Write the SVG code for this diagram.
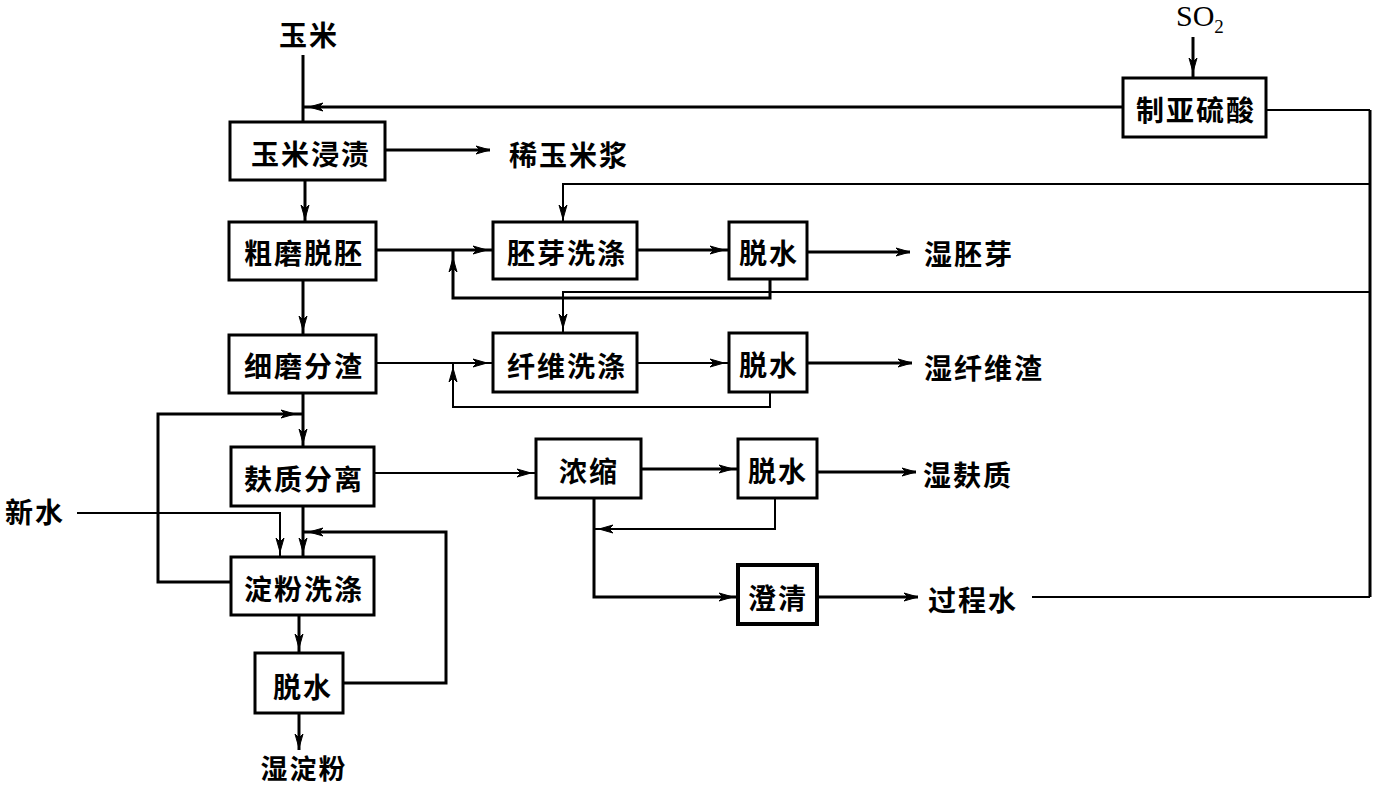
<svg xmlns="http://www.w3.org/2000/svg" xmlns:xlink="http://www.w3.org/1999/xlink" width="1376" height="787" viewBox="0 0 1376 787">
<style>
.box{fill:#fff;stroke:#000;stroke-width:3}
.bx4{fill:#fff;stroke:#000;stroke-width:4}
.t{font-family:"Noto Sans CJK SC","Noto Sans CJK TC",sans-serif;font-weight:bold;font-size:28px;letter-spacing:2px;text-anchor:middle;dominant-baseline:central;fill:#000}
.thk{fill:none;stroke:#000;stroke-width:3}
.thn{fill:none;stroke:#000;stroke-width:2}
</style>
<defs>
<path id="ah" d="M0,0 L-14,-4 L-10,0 L-14,4 Z" fill="#000" stroke="#000" stroke-width="1"/>
</defs>
<rect width="1376" height="787" fill="#fff"/>
<g id="connectors">
<path class="thk" d="M303,55 V122"/>
<path class="thk" d="M303,107 H1123"/>
<path class="thk" d="M1193,37 V78"/>
<path class="thn" d="M1266,110 H1370"/>
<path class="thk" d="M1370,110 V597"/>
<path class="thn" d="M1370,184 H563 V222"/>
<path class="thn" d="M1370,292 H563 V333"/>
<path class="thn" d="M1370,597 H1032"/>
<path class="thk" d="M385,150 H490"/>
<path class="thk" d="M305,180 V222"/>
<path class="thk" d="M376,250 H493"/>
<path class="thk" d="M637,250 H729"/>
<path class="thk" d="M807,252 H910"/>
<path class="thk" d="M770,280 V298 H453 V250"/>
<path class="thk" d="M303,280 V335"/>
<path class="thn" d="M376,363 H493"/>
<path class="thn" d="M637,363 H729"/>
<path class="thk" d="M807,363 H912"/>
<path class="thn" d="M770,392 V407 H453 V363"/>
<path class="thk" d="M303,392 V447"/>
<path class="thk" d="M231,582 H158 V414 H303"/>
<path class="thn" d="M374,473 H536"/>
<path class="thk" d="M641,469 H738"/>
<path class="thk" d="M817,472 H916"/>
<path class="thn" d="M775,498 V529 H594"/>
<path class="thk" d="M594,498 V597 H738"/>
<path class="thk" d="M817,597 H918"/>
<path class="thn" d="M77,513 H280 V557"/>
<path class="thk" d="M303,506 V557"/>
<path class="thk" d="M343,683 H446 V532 H303"/>
<path class="thk" d="M299,615 V653"/>
<path class="thk" d="M299,713 V750"/>
<use xlink:href="#ah" transform="translate(309,107) rotate(180)"/>
<use xlink:href="#ah" transform="translate(1193,72) rotate(90)"/>
<use xlink:href="#ah" transform="translate(490,150)"/>
<use xlink:href="#ah" transform="translate(305,219) rotate(90)"/>
<use xlink:href="#ah" transform="translate(563,219) rotate(90)"/>
<use xlink:href="#ah" transform="translate(487,250)"/>
<use xlink:href="#ah" transform="translate(453,258) rotate(-90)"/>
<use xlink:href="#ah" transform="translate(724,250)"/>
<use xlink:href="#ah" transform="translate(910,252)"/>
<use xlink:href="#ah" transform="translate(563,328) rotate(90)"/>
<use xlink:href="#ah" transform="translate(303,330) rotate(90)"/>
<use xlink:href="#ah" transform="translate(487,363)"/>
<use xlink:href="#ah" transform="translate(453,368) rotate(-90)"/>
<use xlink:href="#ah" transform="translate(724,363)"/>
<use xlink:href="#ah" transform="translate(912,363)"/>
<use xlink:href="#ah" transform="translate(303,443) rotate(90)"/>
<use xlink:href="#ah" transform="translate(295,414)"/>
<use xlink:href="#ah" transform="translate(531,473)"/>
<use xlink:href="#ah" transform="translate(733,469)"/>
<use xlink:href="#ah" transform="translate(916,472)"/>
<use xlink:href="#ah" transform="translate(599,529) rotate(180)"/>
<use xlink:href="#ah" transform="translate(733,597)"/>
<use xlink:href="#ah" transform="translate(918,597)"/>
<use xlink:href="#ah" transform="translate(280,552) rotate(90)"/>
<use xlink:href="#ah" transform="translate(303,552) rotate(90)"/>
<use xlink:href="#ah" transform="translate(309,532) rotate(180)"/>
<use xlink:href="#ah" transform="translate(299,648) rotate(90)"/>
<use xlink:href="#ah" transform="translate(299,748) rotate(90)"/>
</g>
<g id="n-yumi"><text class="t" x="309" y="34">玉米</text></g>
<g id="n-so2"><text x="1176" y="26" font-family="Liberation Serif,serif" font-size="30">SO<tspan font-size="19" dy="7">2</tspan></text></g>
<g id="n-zhiyalsuan"><rect class="box" x="1123" y="78" width="143" height="59"/><text class="t" x="1196" y="109">制亚硫酸</text></g>
<g id="n-jinzi"><rect class="box" x="230" y="122" width="155" height="58"/><text class="t" x="311" y="153">玉米浸渍</text></g>
<g id="n-xiyumijiang"><text class="t" x="569" y="154">稀玉米浆</text></g>
<g id="n-cumo"><rect class="box" x="229" y="222" width="147" height="58"/><text class="t" x="304" y="252">粗磨脱胚</text></g>
<g id="n-peiya"><rect class="box" x="493" y="222" width="144" height="57"/><text class="t" x="567" y="252">胚芽洗涤</text></g>
<g id="n-tuoshui1"><rect class="box" x="729" y="222" width="78" height="57"/><text class="t" x="769" y="252">脱水</text></g>
<g id="n-shipeiya"><text class="t" x="969" y="253">湿胚芽</text></g>
<g id="n-ximo"><rect class="box" x="229" y="335" width="147" height="58"/><text class="t" x="304" y="365">细磨分渣</text></g>
<g id="n-xianwei"><rect class="box" x="493" y="333" width="144" height="59"/><text class="t" x="567" y="365">纤维洗涤</text></g>
<g id="n-tuoshui2"><rect class="box" x="729" y="333" width="78" height="59"/><text class="t" x="769" y="364">脱水</text></g>
<g id="n-shixianweizha"><text class="t" x="984" y="367">湿纤维渣</text></g>
<g id="n-fuzhi"><rect class="box" x="231" y="447" width="143" height="59"/><text class="t" x="304" y="478">麸质分离</text></g>
<g id="n-nongsuo"><rect class="box" x="536" y="439" width="105" height="59"/><text class="t" x="589" y="470">浓缩</text></g>
<g id="n-tuoshui3"><rect class="box" x="738" y="439" width="79" height="59"/><text class="t" x="778" y="470">脱水</text></g>
<g id="n-shifuzhi"><text class="t" x="968" y="474">湿麸质</text></g>
<g id="n-xinshui"><text class="t" x="35" y="511">新水</text></g>
<g id="n-dianfen"><rect class="box" x="231" y="557" width="143" height="58"/><text class="t" x="304" y="588">淀粉洗涤</text></g>
<g id="n-chengqing"><rect class="bx4" x="738" y="565" width="79" height="59"/><text class="t" x="778" y="597">澄清</text></g>
<g id="n-guochengshui"><text class="t" x="973" y="599">过程水</text></g>
<g id="n-tuoshui4"><rect class="box" x="255" y="653" width="88" height="60"/><text class="t" x="303" y="686">脱水</text></g>
<g id="n-shidianfen"><text class="t" x="304" y="767" style="font-size:27px">湿淀粉</text></g>
</svg>
